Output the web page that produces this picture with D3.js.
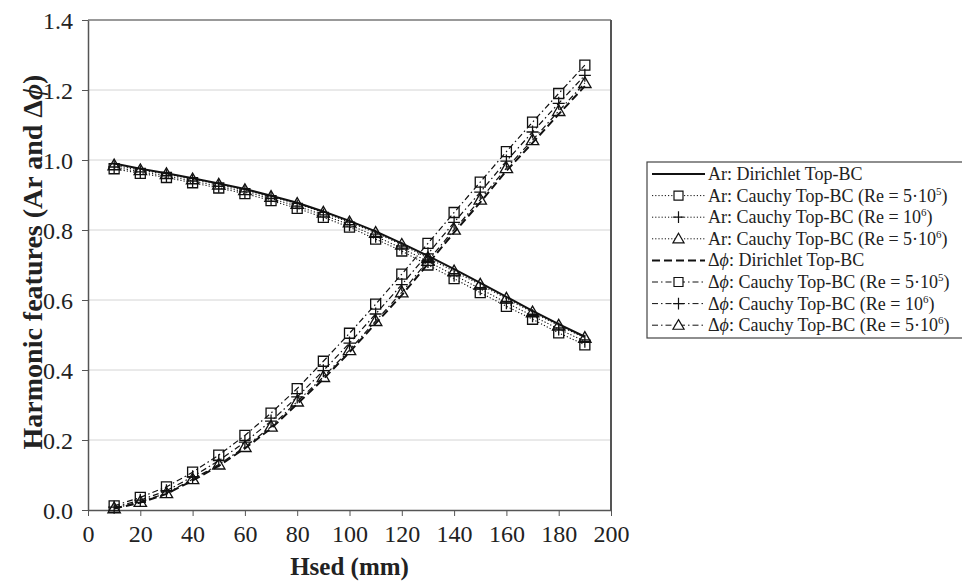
<!DOCTYPE html>
<html><head><meta charset="utf-8">
<script src="https://cdn.jsdelivr.net/npm/d3@7"></script>
<style>body{margin:0;background:#fff}svg{display:block}text{font-family:"Liberation Serif","Times New Roman",serif}</style>
</head><body><svg id="c" width="962" height="582"></svg>
<script>
const hsed = [10,20,30,40,50,60,70,80,90,100,110,120,130,140,150,160,170,180,190];
const arDirichlet = [0.99,0.975,0.962,0.948,0.933,0.917,0.898,0.878,0.853,0.826,0.796,0.762,0.726,0.688,0.649,0.609,0.569,0.531,0.495];
const arRe5e5 = [0.975,0.962,0.950,0.935,0.920,0.904,0.884,0.862,0.836,0.808,0.774,0.740,0.700,0.661,0.621,0.582,0.545,0.506,0.472];
const arRe1e6 = [0.980,0.966,0.955,0.940,0.925,0.909,0.890,0.868,0.843,0.815,0.782,0.748,0.710,0.671,0.632,0.592,0.555,0.517,0.482];
const arRe5e6 = [0.985,0.971,0.960,0.945,0.930,0.914,0.895,0.875,0.850,0.822,0.792,0.758,0.720,0.682,0.644,0.604,0.565,0.527,0.492];
const dpDirichlet = [0.004,0.021,0.046,0.084,0.126,0.176,0.233,0.303,0.374,0.451,0.533,0.614,0.703,0.793,0.879,0.969,1.049,1.131,1.211];
const dpRe5e5 = [0.012,0.036,0.066,0.108,0.157,0.213,0.277,0.347,0.425,0.505,0.588,0.674,0.762,0.850,0.937,1.024,1.108,1.190,1.271];
const dpRe1e6 = [0.008,0.028,0.055,0.095,0.141,0.194,0.254,0.323,0.398,0.477,0.560,0.644,0.732,0.822,0.908,0.997,1.080,1.162,1.242];
const dpRe5e6 = [0.005,0.023,0.048,0.088,0.130,0.180,0.238,0.310,0.380,0.457,0.540,0.622,0.712,0.801,0.887,0.977,1.057,1.140,1.220];
const xTicks = [0,20,40,60,80,100,120,140,160,180,200];
const yTicks = [0.0,0.2,0.4,0.6,0.8,1.0,1.2,1.4];

const series = [
  {vals: arDirichlet, dash: null, w: 2, marker: null, label: [["Ar: Dirichlet Top-BC"]]},
  {vals: arRe5e5, dash: "1.2,2", w: 1.1, marker: "square", label: [["Ar: Cauchy Top-BC (Re = 5·10"],["5","sup"],[")"]]},
  {vals: arRe1e6, dash: "1.2,2", w: 1.1, marker: "plus", label: [["Ar: Cauchy Top-BC (Re = 10"],["6","sup"],[")"]]},
  {vals: arRe5e6, dash: "1.2,2", w: 1.1, marker: "triangle", label: [["Ar: Cauchy Top-BC (Re = 5·10"],["6","sup"],[")"]]},
  {vals: dpDirichlet, dash: "8,4", w: 2, marker: null, label: [["Δ"],["ϕ","it"],[": Dirichlet Top-BC"]]},
  {vals: dpRe5e5, dash: "6,3,1.5,3", w: 1.2, marker: "square", label: [["Δ"],["ϕ","it"],[": Cauchy Top-BC (Re = 5·10"],["5","sup"],[")"]]},
  {vals: dpRe1e6, dash: "6,3,1.5,3", w: 1.2, marker: "plus", label: [["Δ"],["ϕ","it"],[": Cauchy Top-BC (Re = 10"],["6","sup"],[")"]]},
  {vals: dpRe5e6, dash: "6,3,1.5,3", w: 1.2, marker: "triangle", label: [["Δ"],["ϕ","it"],[": Cauchy Top-BC (Re = 5·10"],["6","sup"],[")"]]}
];

const svg = d3.select("#c");
const L = 88, R = 611, T = 20, B = 510;
const x = d3.scaleLinear().domain([0,200]).range([L,R]);
const y = d3.scaleLinear().domain([0,1.4]).range([B,T]);

svg.append("g").selectAll("line").data(yTicks.slice(1)).join("line")
  .attr("x1",L).attr("x2",R).attr("y1",d=>y(d)).attr("y2",d=>y(d))
  .attr("stroke",d=>d===1.4?"#777":"#d4d4d4").attr("stroke-width",d=>d===1.4?1.5:1);
svg.append("line").attr("x1",R).attr("x2",R).attr("y1",T).attr("y2",B).attr("stroke","#555").attr("stroke-width",2);

const gx = svg.append("g").attr("transform",`translate(0,${B})`)
  .call(d3.axisBottom(x).tickValues(xTicks).tickFormat(d3.format("d")).tickSizeInner(6).tickSizeOuter(0).tickPadding(9));
const gy = svg.append("g").attr("transform",`translate(${L},0)`)
  .call(d3.axisLeft(y).tickValues(yTicks).tickFormat(d3.format(".1f")).tickSizeInner(6).tickSizeOuter(0).tickPadding(9));
[gx,gy].forEach(g=>{
  g.select(".domain").attr("stroke","#555").attr("stroke-width",1.5);
  g.selectAll(".tick line").attr("stroke","#555");
  g.selectAll("text").attr("font-size",24).attr("fill","#222");
});
gy.selectAll("text").attr("dy","0.34em");

svg.append("text").attr("x",(L+R)/2).attr("y",575).attr("text-anchor","middle")
  .attr("font-size",25).attr("font-weight","bold").attr("fill","#222").text("Hsed (mm)");
const yt = svg.append("text").attr("transform",`translate(42,262) rotate(-90)`)
  .attr("text-anchor","middle").attr("font-size",28).attr("font-weight","bold").attr("fill","#222");
yt.append("tspan").text("Harmonic features (Ar and Δ");
yt.append("tspan").attr("font-style","italic").text("ϕ");
yt.append("tspan").text(")");

function markerPath(type, s){
  if(type==="square") return `M${-s/2},${-s/2}h${s}v${s}h${-s}Z`;
  if(type==="triangle") return `M0,${-s*0.62}L${s*0.62},${s*0.45}L${-s*0.62},${s*0.45}Z`;
  if(type==="plus") return `M${-s*0.6},0H${s*0.6}M0,${-s*0.65}V${s*0.65}`;
  return "";
}

const line = d3.line().x(d=>x(d[0])).y(d=>y(d[1]));
const plot = svg.append("g");
series.forEach(s=>{
  const pts = hsed.map((h,i)=>[h,s.vals[i]]);
  plot.append("path").attr("d",line(pts)).attr("fill","none").attr("stroke","#111")
    .attr("stroke-width",s.w).attr("stroke-dasharray",s.dash);
  if(s.marker){
    plot.append("g").selectAll("path").data(pts).join("path")
      .attr("transform",d=>`translate(${x(d[0])},${y(d[1])})`)
      .attr("d",markerPath(s.marker,10)).attr("fill","none").attr("stroke","#111").attr("stroke-width",1.3);
  }
});

const lg = svg.append("g");
lg.append("rect").attr("x",647).attr("y",162).attr("width",320).attr("height",176)
  .attr("fill","#fff").attr("stroke","#444").attr("stroke-width",1.2);
series.forEach((s,i)=>{
  const cy = 174 + i*21.6;
  lg.append("line").attr("x1",652).attr("x2",705).attr("y1",cy).attr("y2",cy)
    .attr("stroke","#111").attr("stroke-width",s.w===2?2:1).attr("stroke-dasharray",s.dash);
  if(s.marker) lg.append("path").attr("transform",`translate(678.5,${cy})`)
    .attr("d",markerPath(s.marker,9)).attr("fill","#fff").attr("stroke","#111").attr("stroke-width",1.2);
  const t = lg.append("text").attr("x",708).attr("y",cy+6).attr("font-size",18).attr("fill","#222");
  s.label.forEach(p=>{
    const ts = t.append("tspan").text(p[0]);
    if(p[1]==="sup") ts.attr("font-size",11).attr("dy",-7);
    else if(p[1]==="it") ts.attr("font-style","italic");
    if(p[0]===")") ts.attr("dy",7);
  });
});
</script></body></html>
